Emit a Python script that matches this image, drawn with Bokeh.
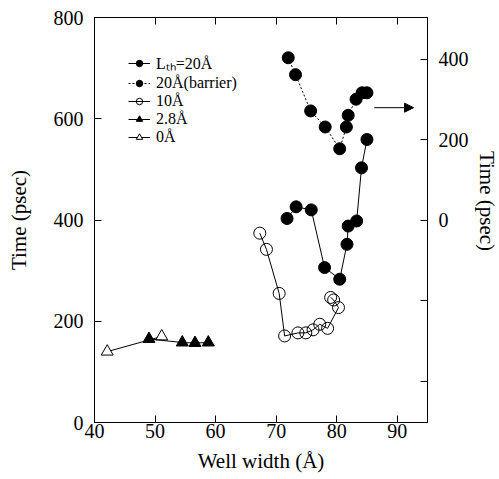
import math
from bokeh.plotting import figure
from bokeh.layouts import row
from bokeh.models import (Range1d, LinearAxis, Legend, LegendItem, Arrow,
                          NormalHead, FixedTicker, Label)
from bokeh.embed import file_html
from bokeh.resources import INLINE

# Well width (Å) versus time (psec) for several thicknesses
w_0A = [42.1, 51.1]
t_0A = [140, 170]

w_28A = [49.0, 54.5, 56.6, 58.8]
t_28A = [165, 158, 157, 158]

w_10A = [67.3, 68.4, 70.5, 71.4, 73.6, 74.9, 76.1, 77.2, 78.5, 80.3, 79.5, 79.0]
t_10A = [374, 342, 255, 171, 177, 177, 183, 194, 186, 227, 242, 247]

w_20A = [71.8, 73.3, 75.8, 78.0, 80.5, 81.7, 81.9, 83.3, 84.1, 85.0]
t_20A = [403, 426, 420, 306, 283, 352, 388, 398, 503, 559]

# barrier series, read against the right-hand axis
w_20A_barrier = [72.0, 73.2, 75.7, 78.1, 80.5, 81.6, 81.9, 83.2, 84.2, 85.0]
t_20A_barrier = [404, 362, 272, 232, 178, 232, 261, 301, 317, 317]

x_ticks = [40, 50, 60, 70, 80, 90]
y_ticks = [0, 200, 400, 600, 800]
y2_ticks = [-400, -200, 0, 200, 400]
y2_labels = {-400: "", -200: ""}

arrow_x = (86.2, 92.7)
arrow_y = 280

FONT = "Liberation Serif"

p = figure(width=474, height=479, output_backend="svg", toolbar_location=None,
           x_range=Range1d(40, 95), y_range=Range1d(0, 800),
           min_border_left=94, min_border_right=47,
           min_border_top=17, min_border_bottom=57)
p.xgrid.visible = False
p.ygrid.visible = False
p.outline_line_color = "black"
p.background_fill_color = "white"
p.border_fill_color = "white"

p.extra_y_ranges = {"right": Range1d(-502, 504)}

bottom_axis = p.below[0]
left_axis = p.left[0]
bottom_axis.axis_label = "Well width (Å)"
left_axis.axis_label = "Time (psec)"
bottom_axis.ticker = FixedTicker(ticks=x_ticks)
left_axis.ticker = FixedTicker(ticks=y_ticks)

right_axis = LinearAxis(y_range_name="right",
                        ticker=FixedTicker(ticks=y2_ticks),
                        major_label_overrides=y2_labels)
p.add_layout(right_axis, "right")

top_axis = LinearAxis(ticker=FixedTicker(ticks=x_ticks),
                      major_label_overrides={t: "" for t in x_ticks})
p.add_layout(top_axis, "above")

for ax in [bottom_axis, left_axis, right_axis, top_axis]:
    ax.axis_line_color = "black"
    ax.axis_line_width = 1
    ax.major_tick_in = 7
    ax.major_tick_out = 0
    ax.major_tick_line_color = "black"
    ax.minor_tick_line_color = None
    ax.major_label_text_font = FONT
    ax.major_label_text_font_size = "20px"
    ax.major_label_text_color = "black"
    ax.axis_label_text_font = FONT
    ax.axis_label_text_font_size = "21px"
    ax.axis_label_text_font_style = "normal"
    ax.axis_label_text_color = "black"

top_axis.major_label_standoff = 0

bottom_axis.major_label_standoff = 1
bottom_axis.axis_label_standoff = 8
left_axis.major_label_standoff = 11
left_axis.axis_label_standoff = 20
right_axis.major_label_standoff = 11

# 0 Å: open triangles
l0 = p.line(w_0A, t_0A, line_color="black", line_width=1)
s0 = p.scatter(w_0A, t_0A, marker="triangle", size=12,
               fill_color="white", line_color="black", line_width=1)

# 2.8 Å: filled triangles
l28 = p.line(w_28A, t_28A, line_color="black", line_width=1)
s28 = p.scatter(w_28A, t_28A, marker="triangle", size=12,
                fill_color="black", line_color="black")

# 10 Å: open circles
l10 = p.line(w_10A, t_10A, line_color="black", line_width=1)
s10 = p.scatter(w_10A, t_10A, marker="circle", size=12,
                fill_color="white", fill_alpha=0, line_color="black", line_width=1)

# L_th = 20 Å: filled circles
l20 = p.line(w_20A, t_20A, line_color="black", line_width=1)
s20 = p.scatter(w_20A, t_20A, marker="circle", size=12,
                fill_color="black", line_color="black")

# 20 Å barrier: filled circles, dotted, right axis
lb = p.line(w_20A_barrier, t_20A_barrier, y_range_name="right",
            line_color="black", line_width=1, line_dash="2 2")
sb = p.scatter(w_20A_barrier, t_20A_barrier, y_range_name="right",
               marker="circle", size=12, fill_color="black", line_color="black")

p.add_layout(Arrow(x_start=arrow_x[0], y_start=arrow_y,
                   x_end=arrow_x[1], y_end=arrow_y, y_range_name="right",
                   line_color="black", line_width=1,
                   end=NormalHead(size=9, fill_color="black", line_color="black")))

# key: one compact row per series, stacked tightly
entries = [
    ("Lₜₕ=20Å", [l20, s20]),
    ("20Å(barrier)", [lb, sb]),
    ("10Å", [l10, s10]),
    ("2.8Å", [l28, s28]),
    ("0Å", [l0, s0]),
]
row_offsets = [348, 330, 312, 294, 276]
for (label, rends), y_off in zip(entries, row_offsets):
    lg = Legend(items=[LegendItem(label=label, renderers=rends)],
                location=(34, y_off))
    lg.border_line_color = None
    lg.background_fill_alpha = 0
    lg.padding = 0
    lg.margin = 0
    lg.spacing = 0
    lg.glyph_width = 22
    lg.glyph_height = 16
    lg.label_height = 16
    lg.label_standoff = 6
    lg.label_text_font = FONT
    lg.label_text_font_size = "16px"
    lg.label_text_color = "black"
    p.add_layout(lg)

# narrow strip carrying the right-hand axis title, reading downwards
side = figure(width=25, height=479, output_backend="svg", toolbar_location=None,
              x_range=Range1d(0, 1), y_range=Range1d(0, 1),
              x_axis_type=None, y_axis_type=None, min_border=0)
side.outline_line_color = None
side.background_fill_color = "white"
side.border_fill_color = "white"
side.add_layout(Label(x=0.5, y=0.547, text="Time (psec)", angle=-math.pi / 2,
                      text_align="center", text_baseline="middle",
                      text_font=FONT, text_font_size="21px", text_color="black"))

layout = row(p, side, spacing=0)

open("out.html", "w").write(file_html(layout, INLINE))
